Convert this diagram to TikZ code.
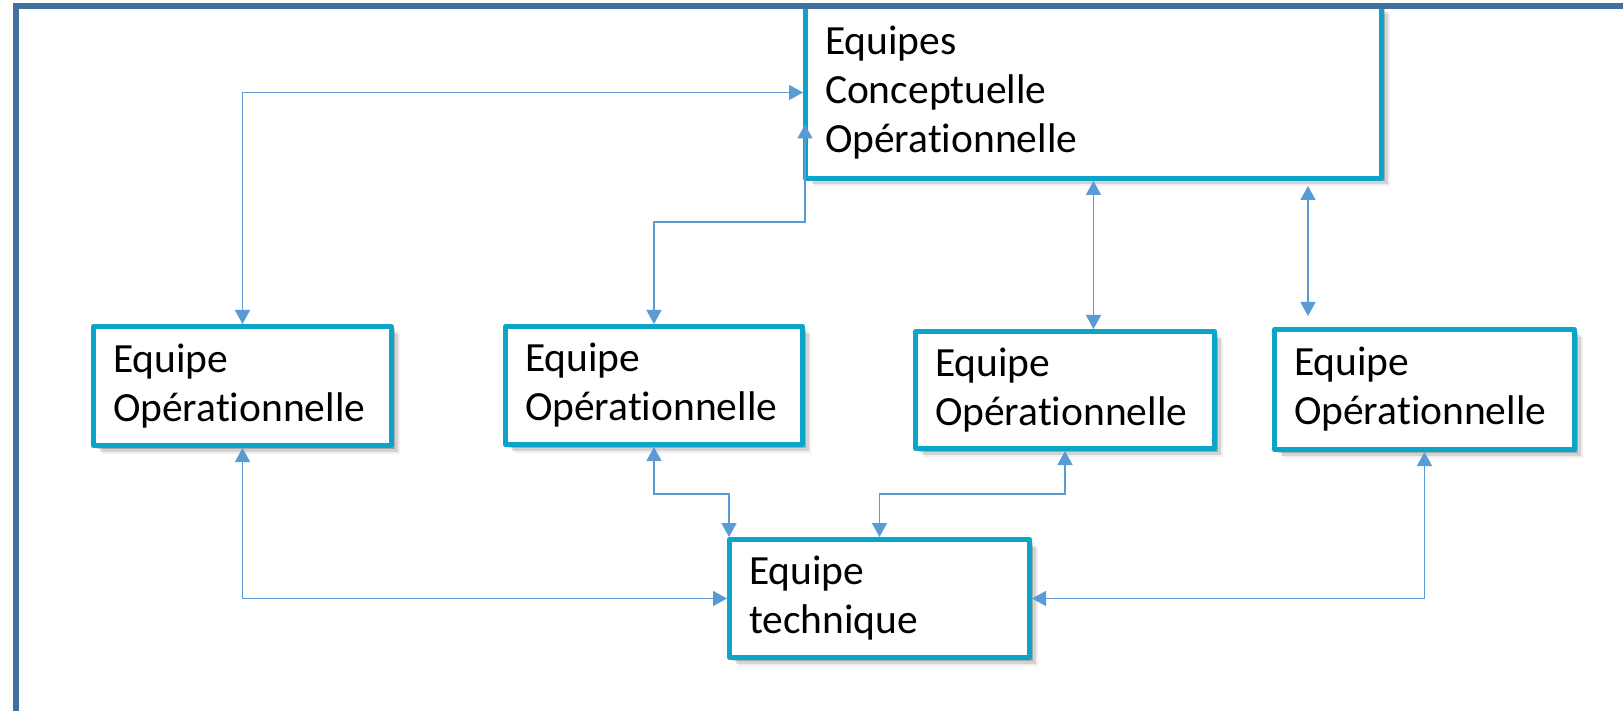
\documentclass[tikz,border=0pt]{standalone}
\usepackage{fontspec}
\setmainfont{Carlito}[Ligatures={NoCommon}]
\usetikzlibrary{arrows.meta,shadows,calc}
\definecolor{tb}{RGB}{10,165,200}
\definecolor{cb}{RGB}{91,155,213}
\definecolor{fb}{RGB}{65,113,156}
\tikzset{
  teambox/.style={draw=tb, line width=5pt, fill=white, line join=round,
    inner xsep=19.5pt, inner ysep=0pt, align=left, anchor=center,
    font=\fontsize{41.5}{49}\selectfont,
    drop shadow={shadow xshift=3pt, shadow yshift=-3pt, opacity=.20, fill=black},
    drop shadow={shadow xshift=6pt, shadow yshift=-6pt, opacity=.12, fill=black},
    drop shadow={shadow xshift=8pt, shadow yshift=-8pt, opacity=.06, fill=black}},
  conn/.style={draw=cb, line width=1.5pt,
    arrows={Triangle[length=14pt,width=15pt]-Triangle[length=14pt,width=15pt]}},
  frame/.style={draw=fb, line width=6pt}
}
\begin{document}
\begin{tikzpicture}[x=1pt,y=-1pt]
\useasboundingbox (0,0) rectangle (1623,711);
% boxes
\node[teambox, minimum width=576pt, minimum height=172pt, text width=537pt] (top) at (1093.5,92.5) {Equipes\\Conceptuelle\\Opérationnelle};
\node[teambox, minimum width=298pt, minimum height=119pt, text width=259pt] (b1) at (242.5,386) {Equipe\\Opérationnelle};
\node[teambox, minimum width=297pt, minimum height=118pt, text width=258pt] (b2) at (654,385.5) {Equipe\\Opérationnelle};
\node[teambox, minimum width=299pt, minimum height=117pt, text width=260pt] (b3) at (1065,390) {Equipe\\Opérationnelle};
\node[teambox, minimum width=300pt, minimum height=120pt, text width=261pt] (b4) at (1424.5,389.5) {Equipe\\Opérationnelle};
\node[teambox, minimum width=300pt, minimum height=118pt, text width=261pt] (bt) at (879.5,598.5) {Equipe\\technique};
% connectors
\draw[conn] (b1.north) |- (top.west);
\draw[conn] (b2.north) -- (b2.north |- 0,222) -| ([xshift=2pt,yshift=-32pt]top.west);
\draw[conn] (top.south) -- (top.south |- b3.north);
\draw[conn] ($(top.south)+(214.5,5)$) -- ($(b4.north)+(-116.5,-11)$);
\draw[conn] (b1.south) |- (bt.west);
\draw[conn] (b2.south) -- (b2.south |- 0,494) -| ([xshift=2pt]bt.north west);
\draw[conn] (b3.south) -- (b3.south |- 0,494) -| (bt.north);
\draw[conn] (b4.south) |- (bt.east);
% frame
\draw[frame] (16,711) -- (16,6) -- (1623,6);
\end{tikzpicture}
\end{document}
